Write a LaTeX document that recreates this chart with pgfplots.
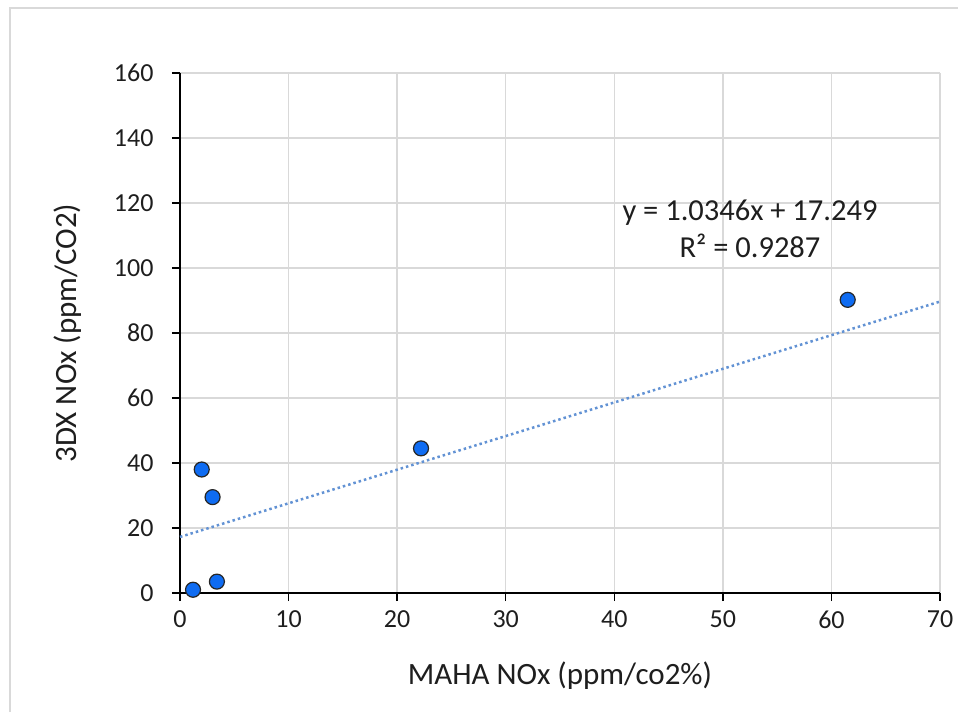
\documentclass[border=0pt]{standalone}
\usepackage{pgfplots}
\pgfplotsset{compat=1.18}
\usepackage{fontspec}
\setmainfont{Carlito}
\definecolor{gridgray}{RGB}{217,217,217}
\definecolor{framegray}{RGB}{217,217,217}
\definecolor{ptblue}{RGB}{15,108,242}
\definecolor{trendblue}{RGB}{98,146,212}
\definecolor{txt}{RGB}{30,30,30}
\begin{document}
\begin{tikzpicture}[x=1pt,y=1pt]
\useasboundingbox (-180,-119) rectangle (778,593);
\fill[white] (-180,-119) rectangle (778,593);
\draw[framegray, line width=2pt] (-170,-119) -- (-170,585) -- (778,585);
\begin{axis}[
  at={(0,0)}, anchor=south west,
  scale only axis, width=760pt, height=520pt,
  xmin=0, xmax=70, ymin=0, ymax=160,
  xtick={0,10,...,70}, ytick={0,20,...,160},
  axis lines*=left,
  axis line style={black, line width=1.3pt},
  grid=major,
  major grid style={gridgray, line width=1.3pt},
  tick align=outside,
  major tick length=8pt,
  tick style={black, line width=1.3pt},
  every tick label/.append style={font=\fontsize{26}{30}\selectfont, text=txt},
  yticklabel style={xshift=-15pt},
  xticklabel style={yshift=-6pt},
  /pgf/number format/assume math mode=true,
  xlabel={MAHA NOx (ppm/co2\%)},
  ylabel={3DX NOx (ppm/CO2)},
  every axis x label/.style={at={(axis description cs:0.5,-0.159)}, anchor=center, font=\fontsize{31}{36}\selectfont, text=txt},
  every axis y label/.style={at={(axis description cs:-0.1474,0.5)}, anchor=center, rotate=90, font=\fontsize{31}{36}\selectfont, text=txt},
  clip=false,
]
\addplot[trendblue, line width=2.5pt, dash pattern=on 2.5pt off 3pt] coordinates {(0,17.249) (70,89.671)};
\addplot[only marks, mark=*, mark size=7.5pt, mark options={fill=ptblue, draw=black!85, line width=1.2pt}] coordinates {
(1.2,1.0) (2.0,38.0) (3.0,29.5) (3.4,3.5) (22.2,44.5) (61.5,90.2)};
\node[font=\fontsize{30.5}{36}\selectfont, text=txt] at (axis cs:52.5,116.9) {y = 1.0346x + 17.249};
\node[font=\fontsize{30.5}{36}\selectfont, text=txt] at (axis cs:52.5,106.8) {R² = 0.9287};
\end{axis}
\end{tikzpicture}
\end{document}
